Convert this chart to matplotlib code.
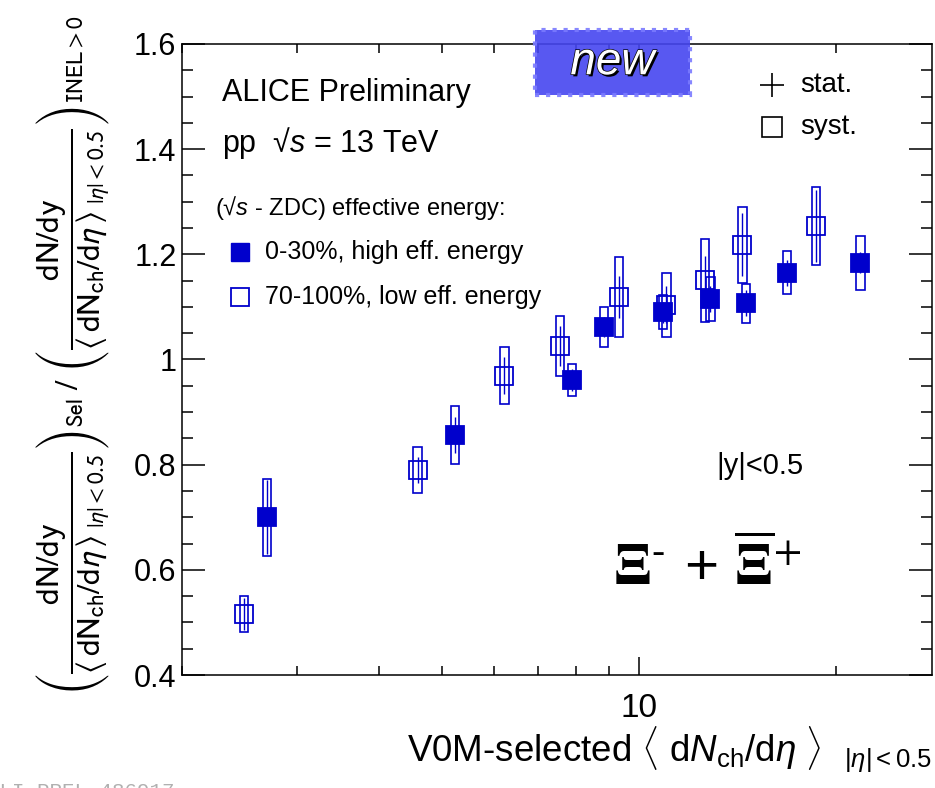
import numpy as np
import matplotlib
matplotlib.use('Agg')
import matplotlib.pyplot as plt
import matplotlib.patheffects as pe
from matplotlib.patches import Rectangle
from matplotlib.ticker import FixedLocator, MultipleLocator, NullFormatter, FuncFormatter

plt.rcParams['font.family'] = ['Liberation Sans', 'DejaVu Sans']
plt.rcParams['mathtext.fontset'] = 'custom'
plt.rcParams['mathtext.rm'] = 'Liberation Sans'
plt.rcParams['mathtext.it'] = 'Liberation Sans:italic'
plt.rcParams['mathtext.bf'] = 'Liberation Sans:bold'

# 0-30%, high effective energy (filled squares)
hi_x = [2.70, 5.23, 7.90, 8.84, 10.88, 12.84, 14.57, 16.83, 21.77]
hi_y = [0.700, 0.856, 0.961, 1.062, 1.090, 1.115, 1.107, 1.165, 1.184]
hi_stat = [0.070, 0.034, 0.020, 0.019, 0.020, 0.025, 0.025, 0.025, 0.020]
hi_syst = [0.073, 0.055, 0.030, 0.038, 0.032, 0.041, 0.037, 0.041, 0.051]

# 70-100%, low effective energy (open squares)
lo_x = [2.49, 4.58, 6.22, 7.57, 9.32, 11.00, 12.61, 14.37, 18.64]
lo_y = [0.516, 0.790, 0.969, 1.026, 1.119, 1.104, 1.151, 1.218, 1.254]
lo_stat = [0.031, 0.025, 0.035, 0.038, 0.040, 0.035, 0.045, 0.060, 0.068]
lo_syst = [0.035, 0.043, 0.054, 0.057, 0.076, 0.061, 0.079, 0.072, 0.074]

blue = '#0000cc'
box_dex = 0.0062  # half width of syst boxes in log10 units

fig = plt.figure(figsize=(9.35, 7.88), dpi=100)
ax = fig.add_axes([0.1947, 0.1434, 0.8021, 0.8008])


def draw_points(x, y, stat, syst, filled):
    x = np.array(x)
    y = np.array(y)
    syst = np.array(syst)
    for xi, yi, si in zip(x, y, syst):
        ax.add_patch(Rectangle((xi / 10**box_dex, yi - si),
                               xi * 10**box_dex - xi / 10**box_dex, 2 * si,
                               fill=False, edgecolor=blue, lw=1.2, zorder=2))
    ax.errorbar(x, y, yerr=stat, fmt='none', ecolor=blue, elinewidth=1.0,
                capsize=0, zorder=3)
    ax.plot(x, y, 's', ms=12.5, mec=blue, mew=1.3,
            mfc=blue if filled else 'none', zorder=4)


draw_points(lo_x, lo_y, lo_stat, lo_syst, False)
draw_points(hi_x, hi_y, hi_stat, hi_syst, True)

ax.set_xscale('log')
ax.set_xlim(2.0, 28.0)
ax.set_ylim(0.4, 1.6)

ax.xaxis.set_major_locator(FixedLocator([10]))
ax.xaxis.set_minor_locator(FixedLocator([2, 3, 4, 5, 6, 7, 8, 9, 20]))
ax.xaxis.set_minor_formatter(NullFormatter())
ax.xaxis.set_major_formatter(FuncFormatter(lambda v, _: f'{v:g}'))
ax.yaxis.set_major_locator(MultipleLocator(0.2))
ax.yaxis.set_minor_locator(MultipleLocator(0.05))
ax.yaxis.set_major_formatter(FuncFormatter(lambda v, _: f'{v:g}'))

ax.tick_params(which='both', direction='in', top=True, right=True, width=1.1)
ax.tick_params(axis='y', which='major', length=16.5, labelsize=22, pad=4)
ax.tick_params(axis='y', which='minor', length=8)
ax.tick_params(axis='x', which='major', length=13, labelsize=24, pad=13)
ax.tick_params(axis='x', which='minor', length=6.5)
for s in ax.spines.values():
    s.set_linewidth(1.1)

ax.set_xlabel(r'V0M-selected $\langle$ d$N_{\mathrm{ch}}$/d$\eta$ $\rangle$  $_{|\eta|<0.5}$',
              fontsize=26.5, loc='right', labelpad=0)

frac = r'\dfrac{\mathrm{dN/dy}}{\langle\,\mathrm{dN}_{\mathrm{ch}}/\mathrm{d}\eta\,\rangle_{\ |\eta|<0.5}}'
ax.set_ylabel(r'$\left(' + frac + r'\right)_{\mathrm{Sel}}\ /\ \left(' + frac + r'\right)_{\mathrm{INEL>0}}$',
              fontsize=24, math_fontfamily='stixsans')
ax.yaxis.set_label_coords(-0.092, 0.507)

# legend block
ax.text(0.053, 0.922, 'ALICE Preliminary', transform=ax.transAxes, fontsize=22, va='center')
ax.text(0.053, 0.843, r'pp  √$s$ = 13 TeV', transform=ax.transAxes, fontsize=22, va='center')
ax.text(0.044, 0.740, r'(√$s$ - ZDC) effective energy:', transform=ax.transAxes,
        fontsize=17, va='center')
ax.plot([0.0773], [0.670], 's', ms=12.5, mfc=blue, mec=blue, transform=ax.transAxes)
ax.text(0.111, 0.670, '0-30%, high eff. energy', transform=ax.transAxes, fontsize=18, va='center')
ax.plot([0.0773], [0.599], 's', ms=12.5, mfc='none', mec=blue, mew=1.3, transform=ax.transAxes)
ax.text(0.111, 0.599, '70-100%, low eff. energy', transform=ax.transAxes, fontsize=18, va='center')

ax.plot([0.787], [0.935], '+', ms=17, mew=1.2, color='black', transform=ax.transAxes)
ax.text(0.824, 0.935, 'stat.', transform=ax.transAxes, fontsize=20, va='center')
ax.plot([0.787], [0.868], 's', ms=15, mew=1.2, mec='black', mfc='none', transform=ax.transAxes)
ax.text(0.824, 0.868, 'syst.', transform=ax.transAxes, fontsize=20, va='center')

ax.text(0.713, 0.331, '|y|<0.5', transform=ax.transAxes, fontsize=21, va='center')
ax.text(0.575, 0.17, r'$\mathbf{\Xi}^{\text{-}}$ + $\overline{\mathbf{\Xi}}^{+}$', transform=ax.transAxes,
        fontsize=42, va='center', math_fontfamily='stix')

# "new" badge
fig.patches.append(Rectangle((535 / 935, 1 - 95 / 788), 155 / 935, 65 / 788,
                             transform=fig.transFigure, facecolor='#4646f0', alpha=0.9,
                             edgecolor='#7a7aff', lw=3, ls=':', zorder=5))
fig.text(0.655, 0.921, 'new', fontsize=33, style='italic', color='white', ha='center',
         va='center', zorder=6,
         path_effects=[pe.withSimplePatchShadow(offset=(1.5, -1.5), shadow_rgbFace='black', alpha=1.0),
                       pe.withStroke(linewidth=1.0, foreground='black')])

# watermark
fig.text(-0.0135, -0.016, 'ALI-PREL-486917', family='Liberation Mono', fontsize=15,
         color='#b0b0b0', va='bottom', ha='left')

fig.savefig('out.png', dpi=100)
